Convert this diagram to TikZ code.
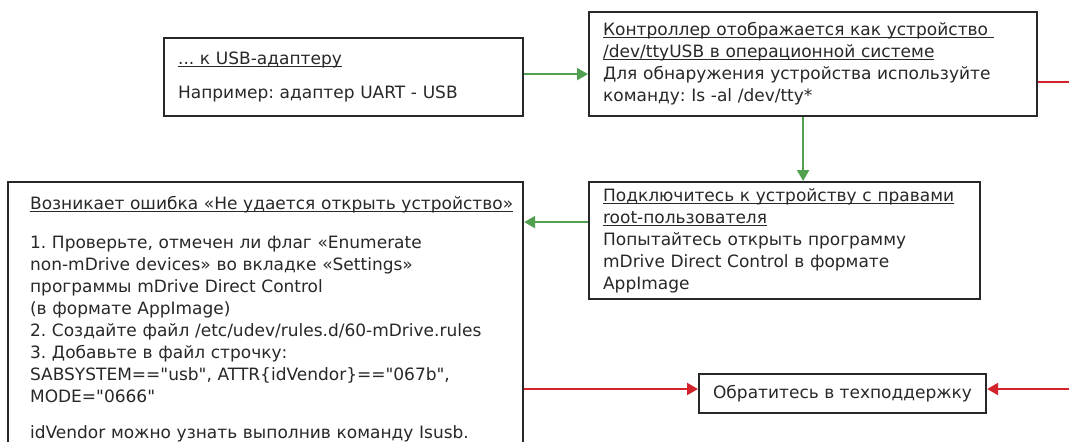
\documentclass[tikz,border=0pt]{standalone}
\usepackage{fontspec}
\setmainfont{DejaVu Sans}[Ligatures=TeXOff]
\usetikzlibrary{positioning,calc}
\usetikzlibrary{arrows.meta}
\definecolor{GoGreen}{RGB}{80,160,80}
\definecolor{StopRed}{RGB}{210,35,45}
\definecolor{InkGray}{RGB}{40,40,40}
\frenchspacing
% underline just under the baseline, as in the picture
\newcommand{\ulbox}[1]{\leavevmode\setbox0\hbox{#1}\rlap{\rule[-2.2pt]{\wd0}{0.9pt}}\box0}
\tikzset{
  card/.style={draw=InkGray,line width=2.2pt,fill=white,anchor=north west,
    align=left,inner xsep=14pt,text=InkGray,
    font=\fontsize{17}{22}\selectfont},
  go/.style={draw=GoGreen,line width=2.2pt,-{Triangle[length=11pt,width=12pt]}},
  nogo/.style={draw=StopRed,line width=2.2pt,-{Triangle[length=11pt,width=12pt]}},
}

\begin{document}
\begin{tikzpicture}[x=1pt,y=-1pt]
\clip (0,0) rectangle (1069,442);
\node[card,minimum width=359pt,minimum height=78pt,text width=331pt] (adapter) at (163,37)
  {\ulbox{... к USB-адаптеру}\\[12pt]
   Например: адаптер UART - USB};
\node[card,minimum width=448pt,minimum height=104pt,text width=420pt] (ttyusb) at (588,11)
  {\ulbox{Контроллер отображается как устройство\ }\\
   \ulbox{/dev/ttyUSB в операционной системе}\\
   Для обнаружения устройства используйте\\
   команду: Is -al /dev/tty*};
\node[card,minimum width=391pt,minimum height=117pt,text width=363pt] (root) at (588,181)
  {\ulbox{Подключитесь к устройству с правами}\\
   \ulbox{root-пользователя}\\
   Попытайтесь открыть программу\\
   mDrive Direct Control в формате\\
   AppImage};
\node[card,inner xsep=22pt,inner ysep=14pt,minimum width=515pt,text width=471pt] (noopen) at (7,181)
  {\ulbox{Возникает ошибка «Не удается открыть устройство»}\\[17pt]
   1. Проверьте, отмечен ли флаг «Enumerate\\
   non-mDrive devices» во вкладке «Settings»\\
   программы mDrive Direct Control\\
   (в формате AppImage)\\
   2. Создайте файл /etc/udev/rules.d/60-mDrive.rules\\
   3. Добавьте в файл строчку:\\
   SABSYSTEM=="usb", ATTR\{idVendor\}=="067b",\\
   MODE="0666"\\[14pt]
   idVendor можно узнать выполнив команду Isusb.\\[30pt]};
\node[card,minimum width=271pt,minimum height=39pt] (support) at (698,373)
  {Обратитесь в техподдержку};
\coordinate (outT) at (1069,82);
\coordinate (outB) at (1069,389);
\draw[go] ([yshift=3pt]adapter.east) -- ([yshift=3pt]adapter.east -| ttyusb.west);
\draw[go] ([xshift=-10pt]ttyusb.south) -- ([xshift=-10pt]ttyusb.south |- root.north);
\draw[go] ([yshift=18.5pt]root.west) -- ([yshift=18.5pt]root.west -| noopen.east);
\draw[nogo] (outB -| noopen.east) -- (outB -| support.west);
\draw[nogo] (outB) -- (outB -| support.east);
\draw[StopRed,line width=2.2pt] (outT -| ttyusb.east) -- (outT);
\end{tikzpicture}
\end{document}
